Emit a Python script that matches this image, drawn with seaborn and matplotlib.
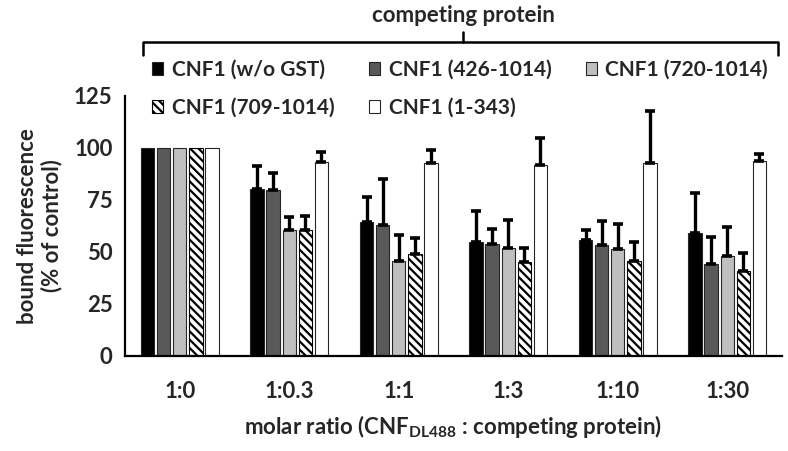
import matplotlib
matplotlib.use("Agg")
import matplotlib.pyplot as plt
import seaborn as sns
import pandas as pd
import numpy as np
from matplotlib.lines import Line2D

# dati
ratios = ["1:0", "1:0.3", "1:1", "1:3", "1:10", "1:30"]
proteins = ["CNF1 (w/o GST)", "CNF1 (426-1014)", "CNF1 (720-1014)",
            "CNF1 (709-1014)", "CNF1 (1-343)"]
wo_gst = [100, 80.5, 64.3, 54.8, 55.7, 59.0]
p426 = [100, 79.8, 63.2, 53.8, 53.3, 44.3]
p720 = [100, 60.8, 45.7, 51.9, 51.6, 48.1]
p709 = [100, 60.8, 48.9, 45.1, 45.5, 40.8]
p1_343 = [100, 93.3, 92.7, 91.9, 92.7, 93.8]
err_wo_gst = [0, 10.7, 12.0, 14.7, 5.1, 19.4]
err_426 = [0, 8.3, 21.7, 7.3, 11.7, 13.0]
err_720 = [0, 6.0, 12.5, 13.3, 11.9, 14.0]
err_709 = [0, 6.5, 7.6, 6.6, 9.5, 8.9]
err_1_343 = [0, 4.9, 6.2, 13.0, 24.9, 3.5]

values = [wo_gst, p426, p720, p709, p1_343]
errors = [err_wo_gst, err_426, err_720, err_709, err_1_343]
colors = ["#000000", "#595959", "#bfbfbf", "#ffffff", "#ffffff"]

df = pd.DataFrame({
    "ratio": np.tile(ratios, len(proteins)),
    "protein": np.repeat(proteins, len(ratios)),
    "value": np.concatenate(values),
})

FS = 16

sns.set_theme(style="white")
plt.rcParams["font.family"] = ["Lato", "DejaVu Sans"]
plt.rcParams["font.weight"] = "bold"
plt.rcParams["mathtext.fontset"] = "custom"
plt.rcParams["mathtext.rm"] = "Lato:bold"
plt.rcParams["mathtext.it"] = "Lato:bold"
plt.rcParams["mathtext.bf"] = "Lato:bold"
plt.rcParams["hatch.linewidth"] = 1.6
plt.rcParams["hatch.color"] = "black"

fig = plt.figure(figsize=(7.88, 4.51), dpi=100)
ax = fig.add_axes([125 / 788, 1 - 356 / 451, (782 - 125) / 788, 260 / 451])

sns.barplot(data=df, x="ratio", y="value", hue="protein", order=ratios,
            hue_order=proteins, palette=dict(zip(proteins, colors)),
            errorbar=None, width=0.735, gap=0.17, edgecolor="#262626",
            linewidth=0.8, saturation=1, ax=ax)
bar_conts = list(ax.containers)

# tratteggio per CNF1 (709-1014) + barre d'errore (solo verso l'alto)
for i, cont in enumerate(bar_conts):
    for bar, e in zip(cont.patches, errors[i]):
        if i == 3:
            bar.set_hatch("\\\\\\\\")
            bar.set_edgecolor("black")
        if e > 0:
            xc = bar.get_x() + bar.get_width() / 2
            ax.errorbar(xc, bar.get_height(), yerr=[[0], [e]], fmt="none",
                        ecolor="black", elinewidth=2.4, capsize=3.5,
                        capthick=2.6, zorder=1)

# legenda riga per riga (matplotlib riempie per colonne)
order = [0, 3, 1, 4, 2]
ax.get_legend().remove()
ax.legend([bar_conts[k] for k in order], [proteins[k] for k in order],
          ncol=3, frameon=False, fontsize=15,
          loc="upper left", bbox_to_anchor=(152 / 788, 1 - 60 / 451),
          bbox_transform=fig.transFigure, borderpad=0, borderaxespad=0,
          handlelength=0.55, handleheight=0.58, handletextpad=0.4,
          columnspacing=1.65, labelspacing=0.85)

ax.set_ylim(0, 125)
ax.set_yticks([0, 25, 50, 75, 100, 125])
ax.set_xlim(-0.5, 5.5)
ax.set_xticks(np.arange(-0.5, 6, 1))
ax.set_xticklabels([])
ax.set_xticks(range(len(ratios)), minor=True)
ax.set_xticklabels(ratios, minor=True)
ax.tick_params(axis="x", which="minor", length=0, pad=18, labelsize=FS)
ax.tick_params(axis="x", which="major", direction="out", length=5,
               width=1.5, color="black")
ax.tick_params(axis="y", direction="out", length=5, width=1.5,
               color="black", labelsize=FS, pad=4)
sns.despine(ax=ax)
for s in ["left", "bottom"]:
    ax.spines[s].set_color("black")
    ax.spines[s].set_linewidth(1.6)

ax.set_xlabel("molar ratio (CNF$_{\\mathrm{DL488}}$ : competing protein)",
              fontsize=FS, fontweight="bold", labelpad=8)
ax.set_ylabel("bound fluorescence\n(% of control)", fontsize=FS,
              fontweight="bold", labelpad=8, linespacing=1.15)

# parentesi "competing protein"
bx0, bx1, bxm = 143 / 788, 778 / 788, 463 / 788
by, byd, byu = 1 - 42 / 451, 1 - 55 / 451, 1 - 32 / 451
fig.add_artist(Line2D([bx0, bx0, bx1, bx1], [byd, by, by, byd],
                      color="black", lw=1.8, transform=fig.transFigure))
fig.add_artist(Line2D([bxm, bxm], [by, byu], color="black", lw=1.8,
                      transform=fig.transFigure))
fig.text(bxm, 1 - 15 / 451, "competing protein", ha="center", va="center",
         fontsize=FS, fontweight="bold")

plt.savefig("out.png", dpi=100)
